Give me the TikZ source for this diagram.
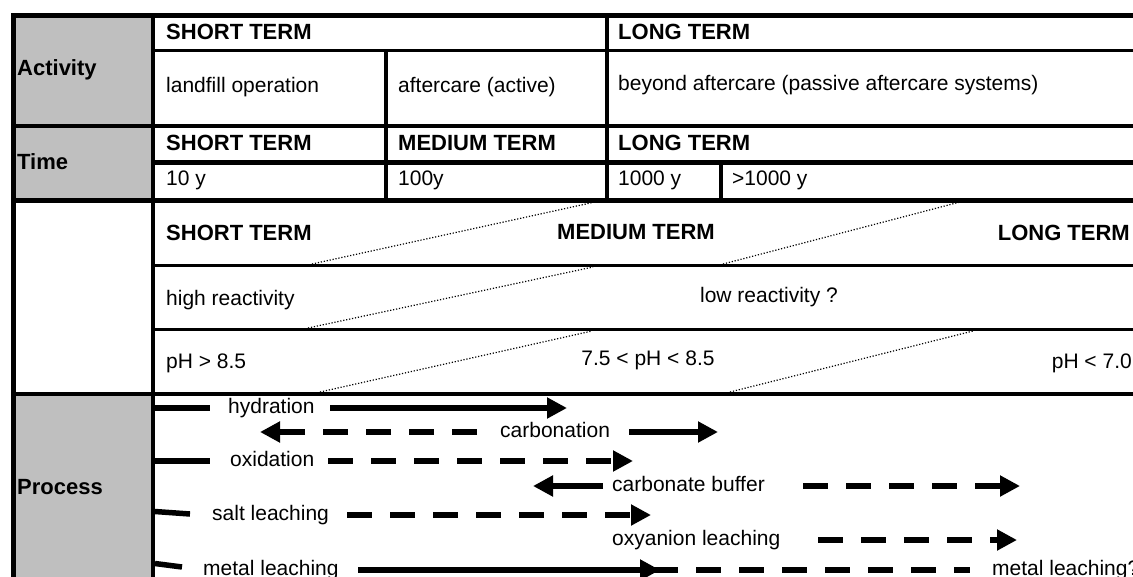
\documentclass[tikz,border=0pt]{standalone}
\usepackage{fontspec}
\setmainfont{Liberation Sans}
\usetikzlibrary{arrows.meta}
\begin{document}
\begin{tikzpicture}[x=1pt,y=-1pt,
  txt/.style={inner sep=0pt,font=\fontsize{21}{25}\selectfont},
  bld/.style={inner sep=0pt,font=\fontsize{22}{26}\selectfont\bfseries},
  thick4/.style={line width=4.5pt},
  thin3/.style={line width=3pt},
  dotl/.style={line width=1.2pt,dash pattern=on 1.2pt off 1.8pt},
  pline/.style={line width=5.5pt},
  pdash/.style={line width=5.5pt,dash pattern=on 25pt off 18pt},
  >={Triangle[length=20pt,width=20pt]}]
\useasboundingbox (0,0) rectangle (1133,576);
\clip (0,0) rectangle (1133,576);
\fill[white] (0,0) rectangle (1133,576);
% grey cells
\fill[gray!50!white,fill=black!25] (13.3,15.3) rectangle (152.8,200.5);
\fill[fill=black!25] (13.3,394) rectangle (152.8,580);
% horizontal rules
\draw[thick4] (11.3,15.3) -- (1140,15.3);
\draw[thin3] (152.8,50) -- (1140,50);
\draw[thick4] (11.3,125.8) -- (1140,125.8);
\draw[thick4] (152.8,162.5) -- (1140,162.5);
\draw[thick4] (11.3,200.5) -- (1140,200.5);
\draw[thin3] (152.8,265.5) -- (1140,265.5);
\draw[thin3] (152.8,329.8) -- (1140,329.8);
\draw[thick4] (11.3,394) -- (1140,394);
% vertical rules
\draw[thick4] (13.3,13) -- (13.3,580);
\draw[thick4] (152.8,13) -- (152.8,580);
\draw[line width=4pt] (386.2,50) -- (386.2,200.5);
\draw[thick4] (607.2,13) -- (607.2,200.5);
\draw[line width=4pt] (721.3,162.5) -- (721.3,200.5);
% dotted diagonals
\coordinate (d1a) at (312,264); \coordinate (d1b) at (595,202);
\coordinate (d2a) at (723,264); \coordinate (d2b) at (960,202);
\coordinate (d3a) at (308,328); \coordinate (d3b) at (593,267);
\coordinate (d4a) at (320,392); \coordinate (d4b) at (592,331);
\coordinate (d5a) at (730,392); \coordinate (d5b) at (973,331);
\draw[dotl] (d1a) -- (d1b);
\draw[dotl] (d2a) -- (d2b);
\draw[dotl] (d3a) -- (d3b);
\draw[dotl] (d4a) -- (d4b);
\draw[dotl] (d5a) -- (d5b);
% Activity
\node[bld,anchor=base west] (act) at (17,75.7) {Activity};
\node[bld,anchor=base west] (ast) at (166,39.5) {SHORT TERM};
\node[bld,anchor=base west] (alt) at (618,39.5) {LONG TERM};
\node[txt,anchor=base west] (lop) at (166,92.6) {landfill operation};
\node[txt,anchor=base west] (aca) at (398,92.6) {aftercare (active)};
\node[txt,anchor=base west] (bac) at (618,90.3) {beyond aftercare (passive aftercare systems)};
% Time
\node[bld,anchor=base west] (tim) at (17,169) {Time};
\node[bld,anchor=base west] (tst) at (166,150.8) {SHORT TERM};
\node[bld,anchor=base west] (tmt) at (398,150.8) {MEDIUM TERM};
\node[bld,anchor=base west] (tlt) at (618,150.8) {LONG TERM};
\node[txt,anchor=base west] (t10) at (166,185) {10 y};
\node[txt,anchor=base west] (t100) at (398,185) {100y};
\node[txt,anchor=base west] (t1000) at (618,185) {1000 y};
\node[txt,anchor=base west] (tgt) at (732,185) {>1000 y};
% Third section
\node[bld,anchor=base west] (cst) at (166,240.8) {SHORT TERM};
\node[bld,anchor=base] (cmt) at (636,239) {MEDIUM TERM};
\node[bld,anchor=base east] (clt) at (1130,240.8) {LONG TERM};
\node[txt,anchor=base west] (hr) at (166,305.3) {high reactivity};
\node[txt,anchor=base] (lr) at (769,302) {low reactivity ?};
\node[txt,anchor=base west] (ph1) at (166,368.6) {pH > 8.5};
\node[txt,anchor=base] (ph2) at (648,365) {7.5 < pH < 8.5};
\node[txt,anchor=base east] (ph3) at (1132,368.6) {pH < 7.0};
% Process
\node[bld,anchor=base west] (proc) at (17,494) {Process};
% row 1 hydration
\coordinate (r1a) at (155,408); \coordinate (r1b) at (210,408);
\coordinate (r1c) at (330,408); \coordinate (r1d) at (567,408);
\node[txt,anchor=base west] (hyd) at (228,413.5) {hydration};
\draw[pline] (r1a) -- (r1b);
\draw[pline,->] (r1c) -- (r1d);
% row 2 carbonation
\coordinate (r2a) at (477,432); \coordinate (r2b) at (260,432);
\coordinate (r2c) at (629,432); \coordinate (r2d) at (718,432);
\node[txt,anchor=base west] (carb) at (500,437.5) {carbonation};
\draw[pdash,->] (r2a) -- (r2b);
\draw[pline,->] (r2c) -- (r2d);
% row 3 oxidation
\coordinate (r3a) at (155,461); \coordinate (r3b) at (210,461);
\coordinate (r3c) at (328,461); \coordinate (r3d) at (633,461);
\node[txt,anchor=base west] (oxi) at (230,466.5) {oxidation};
\draw[pline] (r3a) -- (r3b);
\draw[pdash,->] (r3c) -- (r3d);
% row 4 carbonate buffer
\coordinate (r4a) at (603,486); \coordinate (r4b) at (533,486);
\coordinate (r4c) at (803,486); \coordinate (r4d) at (1020,486);
\node[txt,anchor=base west] (cbuf) at (612,491.5) {carbonate buffer};
\draw[pline,->] (r4a) -- (r4b);
\draw[pdash,->] (r4c) -- (r4d);
% row 5 salt leaching
\coordinate (r5a) at (155,511.5); \coordinate (r5b) at (190,514);
\coordinate (r5c) at (347,515); \coordinate (r5d) at (651,515);
\node[txt,anchor=base west] (salt) at (212,520.5) {salt leaching};
\draw[pline] (r5a) -- (r5b);
\draw[pdash,->] (r5c) -- (r5d);
% row 6 oxyanion leaching
\coordinate (r6c) at (818,540); \coordinate (r6d) at (1017,540);
\node[txt,anchor=base west] (oxy) at (612,545.5) {oxyanion leaching};
\draw[pdash,->] (r6c) -- (r6d);
% row 7 metal leaching
\coordinate (r7a) at (155,563.5); \coordinate (r7b) at (182,567);
\coordinate (r7c) at (358,570); \coordinate (r7d) at (660,570);
\coordinate (r7e) at (653,570); \coordinate (r7f) at (970,570);
\node[txt,anchor=base west] (met) at (203,575.5) {metal leaching};
\node[txt,anchor=base west] (met2) at (992,575.5) {metal leaching?};
\draw[pline] (r7a) -- (r7b);
\draw[pdash] (r7e) -- (r7f);
\draw[pline,->] (r7c) -- (r7d);
\end{tikzpicture}
\end{document}
